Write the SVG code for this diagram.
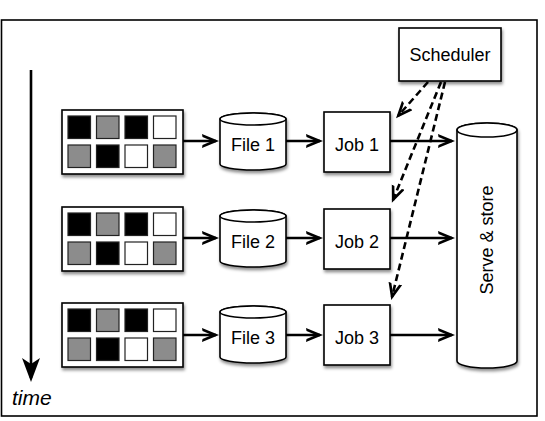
<svg xmlns="http://www.w3.org/2000/svg" width="545" height="421" viewBox="0 0 545 421">
<style>
.box{fill:#fff;stroke:#000;stroke-width:1.6;filter:url(#sh)}
.cyl{fill:#fff;stroke:#000;stroke-width:1.6}
.t{font-family:"Liberation Sans",Arial,sans-serif;font-size:18px;fill:#000;text-anchor:middle}
.k{fill:#000;stroke:#222;stroke-width:1.2}
.g{fill:#8c8c8c;stroke:#222;stroke-width:1.2}
.w{fill:#fff;stroke:#222;stroke-width:1.2}
.a{stroke:#000;stroke-width:2.6;fill:none;marker-end:url(#ah)}
.d{stroke:#000;stroke-width:2.6;fill:none;stroke-dasharray:7 4;marker-end:url(#ah)}
</style>
<defs>
<filter id="sh" x="-10%" y="-10%" width="130%" height="140%">
<feDropShadow dx="1" dy="2.5" stdDeviation="1.6" flood-color="#000" flood-opacity="0.45"/>
</filter>
<marker id="ah" markerUnits="userSpaceOnUse" markerWidth="20" markerHeight="16" refX="14" refY="7" orient="auto">
<path d="M0,0 L17,7 L0,14 L0.5,11 L10,7 L0.5,3 z" fill="#000"/>
</marker>
<marker id="ahBig" markerUnits="userSpaceOnUse" markerWidth="26" markerHeight="22" refX="20" refY="9" orient="auto">
<path d="M0,0 L24,9 L0,18 L6,9 z" fill="#000"/>
</marker>
<g id="pat">
<rect class="box" x="0" y="0" width="121" height="64"/>
<rect class="k" x="6" y="6" width="22.5" height="22.5"/>
<rect class="g" x="34.5" y="6" width="22.5" height="22.5"/>
<rect class="k" x="63" y="6" width="22.5" height="22.5"/>
<rect class="w" x="91.5" y="6" width="22.5" height="22.5"/>
<rect class="g" x="6" y="35" width="22.5" height="22.5"/>
<rect class="k" x="34.5" y="35" width="22.5" height="22.5"/>
<rect class="w" x="63" y="35" width="22.5" height="22.5"/>
<rect class="g" x="91.5" y="35" width="22.5" height="22.5"/>
</g>
<g id="cyl">
<g filter="url(#sh)">
<path class="cyl" d="M0,6 L0,51 A33,6 0 0 0 66,51 L66,6 A33,6 0 0 0 0,6 z"/>
</g>
<ellipse class="cyl" cx="33" cy="6" rx="33" ry="6"/>
</g>
</defs>

<rect x="1.5" y="20" width="535.5" height="396" fill="#fff" stroke="#000" stroke-width="1.6"/>

<g id="time">
<line x1="31" y1="70" x2="31" y2="378" stroke="#000" stroke-width="2.6" marker-end="url(#ahBig)"/>
<text x="12" y="405" font-family="'Liberation Sans',Arial,sans-serif" font-size="21" font-style="italic">time</text>
</g>

<g id="connectors">
<line class="a" x1="183" y1="141" x2="216" y2="141"/>
<line class="a" x1="286" y1="141" x2="320" y2="141"/>
<line class="a" x1="390" y1="141" x2="452" y2="141"/>
<line class="a" x1="183" y1="238" x2="216" y2="238"/>
<line class="a" x1="286" y1="238" x2="320" y2="238"/>
<line class="a" x1="390" y1="238" x2="452" y2="238"/>
<line class="a" x1="183" y1="335" x2="216" y2="335"/>
<line class="a" x1="286" y1="335" x2="320" y2="335"/>
<line class="a" x1="390" y1="335" x2="452" y2="335"/>
<line class="d" x1="428" y1="82" x2="398" y2="116"/>
<line class="d" x1="441" y1="82" x2="393" y2="200"/>
<line class="d" x1="445" y1="82" x2="392" y2="297"/>
</g>

<g id="scheduler">
<rect class="box" x="399" y="28" width="102" height="53"/>
<text class="t" x="450" y="61">Scheduler</text>
</g>

<g id="src1"><use href="#pat" x="62" y="110"/></g>
<g id="src2"><use href="#pat" x="62" y="207"/></g>
<g id="src3"><use href="#pat" x="62" y="303"/></g>

<g id="file1"><use href="#cyl" x="220" y="113"/><text class="t" x="253" y="151">File 1</text></g>
<g id="file2"><use href="#cyl" x="220" y="210"/><text class="t" x="253" y="248">File 2</text></g>
<g id="file3"><use href="#cyl" x="220" y="306"/><text class="t" x="253" y="344">File 3</text></g>

<g id="job1"><rect class="box" x="324" y="112" width="66" height="60"/><text class="t" x="357" y="151">Job 1</text></g>
<g id="job2"><rect class="box" x="324" y="209" width="66" height="60"/><text class="t" x="357" y="248">Job 2</text></g>
<g id="job3"><rect class="box" x="324" y="305" width="66" height="60"/><text class="t" x="357" y="344">Job 3</text></g>

<g id="serve">
<g filter="url(#sh)">
<path class="cyl" d="M457,130 L457,361 A30,7 0 0 0 517,361 L517,130 A30,7 0 0 0 457,130 z"/>
</g>
<ellipse class="cyl" cx="487" cy="130" rx="30" ry="7"/>
<text class="t" transform="translate(493,240) rotate(-90)">Serve &amp; store</text>
</g>
</svg>
